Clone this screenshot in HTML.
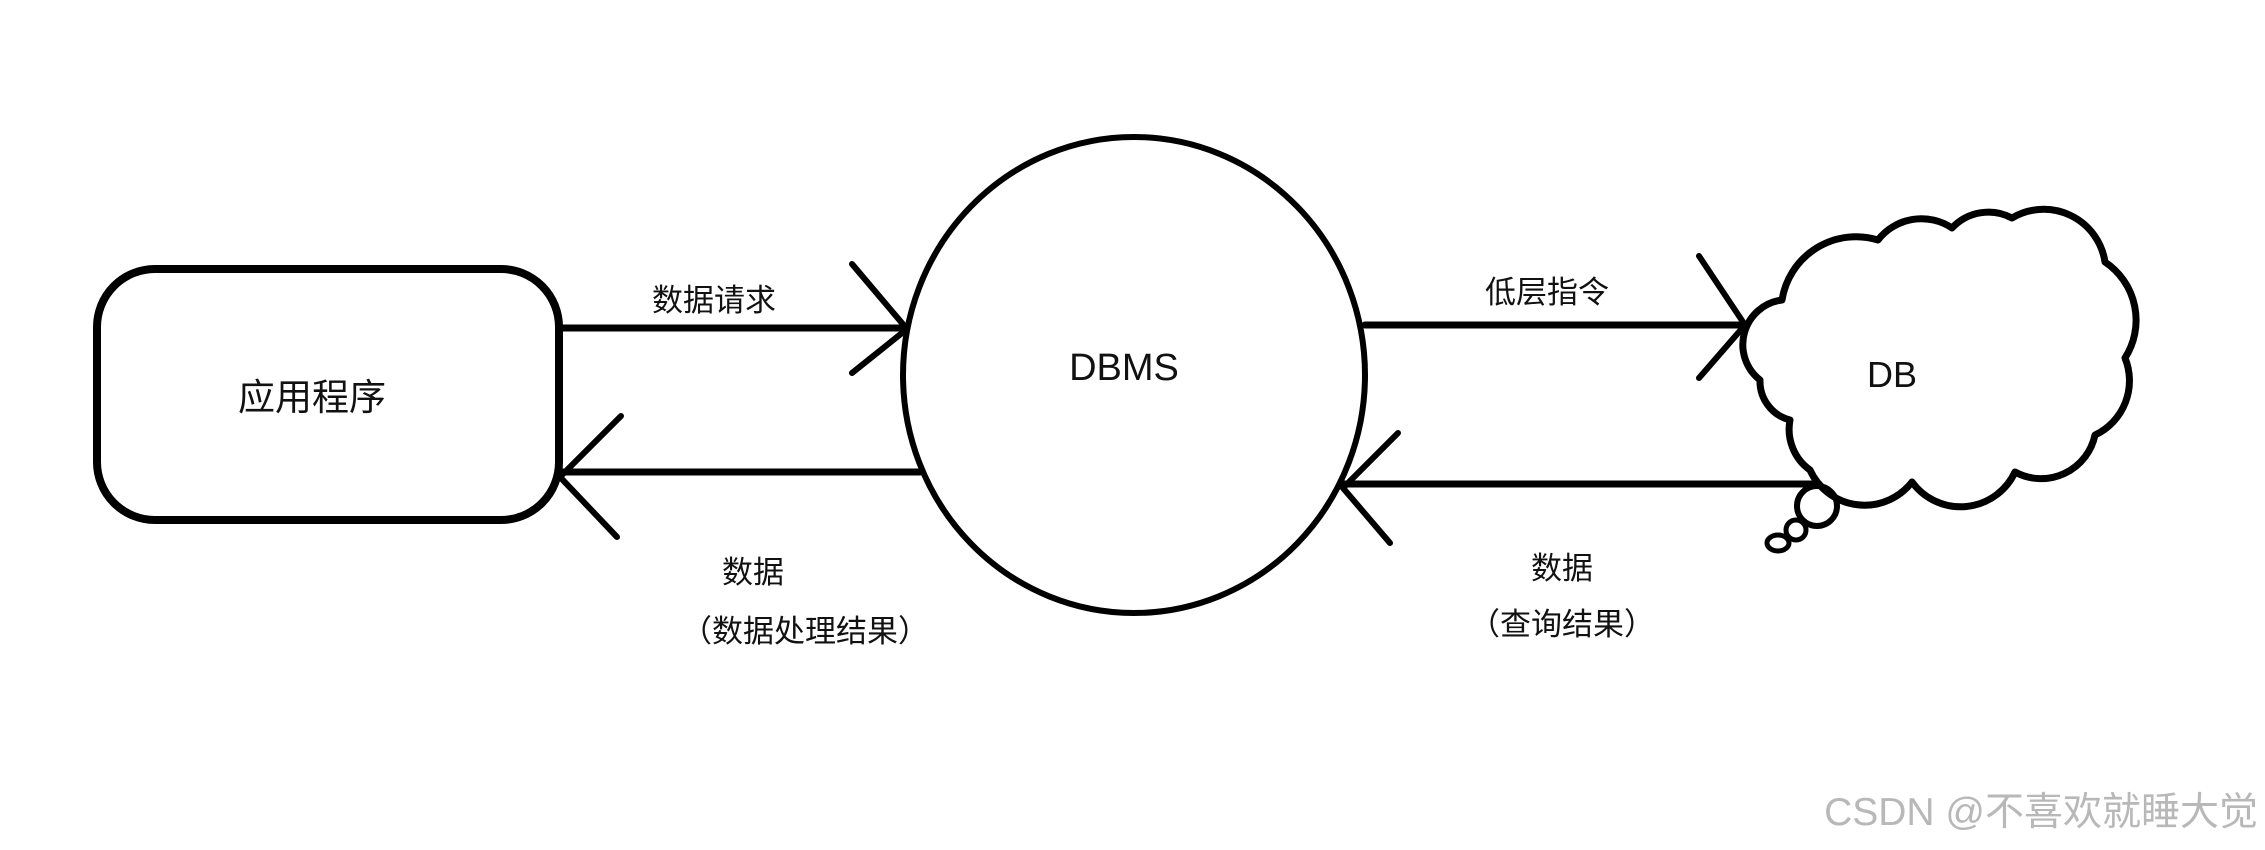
<!DOCTYPE html>
<html><head><meta charset="utf-8"><style>
html,body{margin:0;padding:0;background:#fff;}
svg{display:block}
text{font-family:"Liberation Sans","Noto Sans CJK SC",sans-serif;fill:#111}
</style></head><body>
<svg width="2265" height="850" viewBox="0 0 2265 850" xmlns="http://www.w3.org/2000/svg">
<g fill="none" stroke="#000" stroke-linecap="round" stroke-linejoin="round">
<rect x="97" y="269" width="462" height="251" rx="58" ry="58" stroke-width="8"/>
<ellipse cx="1134" cy="375" rx="231" ry="238" stroke-width="6"/>
<line x1="559" y1="328" x2="905" y2="328" stroke-width="7"/>
<polyline points="852,264 907,329 852,373" stroke-width="6"/>
<line x1="562" y1="472" x2="920" y2="472" stroke-width="7"/>
<polyline points="621,416 560,477 617,537" stroke-width="6"/>
<line x1="1365" y1="325" x2="1745" y2="325" stroke-width="7"/>
<polyline points="1699,256 1745,325 1699,378" stroke-width="6"/>
<line x1="1343" y1="484" x2="1813" y2="484" stroke-width="7"/>
<polyline points="1398,433 1343,488 1390,543" stroke-width="6"/>
<path d="M1760,380 A45,45 0 0 1 1782,300 A75,75 0 0 1 1878,240 A55,55 0 0 1 1952,228 A50,50 0 0 1 2012,218 A62,62 0 0 1 2105,262 A70,70 0 0 1 2125,358 A60,60 0 0 1 2095,435 A55,55 0 0 1 2015,472 A60,60 0 0 1 1912,482 A60,60 0 0 1 1810,470 A50,50 0 0 1 1790,420 A40,40 0 0 1 1760,380 Z" stroke-width="7"/>
<circle cx="1817" cy="506" r="20" stroke-width="6"/>
<circle cx="1796" cy="530" r="10" stroke-width="5"/>
<ellipse cx="1778" cy="543" rx="11" ry="8" stroke-width="5"/>
</g>
<text x="312" y="410" font-size="37" text-anchor="middle">应用程序</text>
<text x="1124" y="380" font-size="38" text-anchor="middle">DBMS</text>
<text x="1892" y="387" font-size="36" text-anchor="middle">DB</text>
<text x="714" y="311" font-size="31" text-anchor="middle">数据请求</text>
<text x="753" y="583" font-size="31" text-anchor="middle">数据</text>
<text x="805" y="642" font-size="31" text-anchor="middle">（数据处理结果）</text>
<text x="1547" y="303" font-size="31" text-anchor="middle">低层指令</text>
<text x="1562" y="579" font-size="31" text-anchor="middle">数据</text>
<text x="1562" y="635" font-size="31" text-anchor="middle">（查询结果）</text>
<text x="2258" y="825" font-size="39" text-anchor="end" style="fill:#b8b8b8">CSDN @不喜欢就睡大觉</text>
</svg>
</body></html>
